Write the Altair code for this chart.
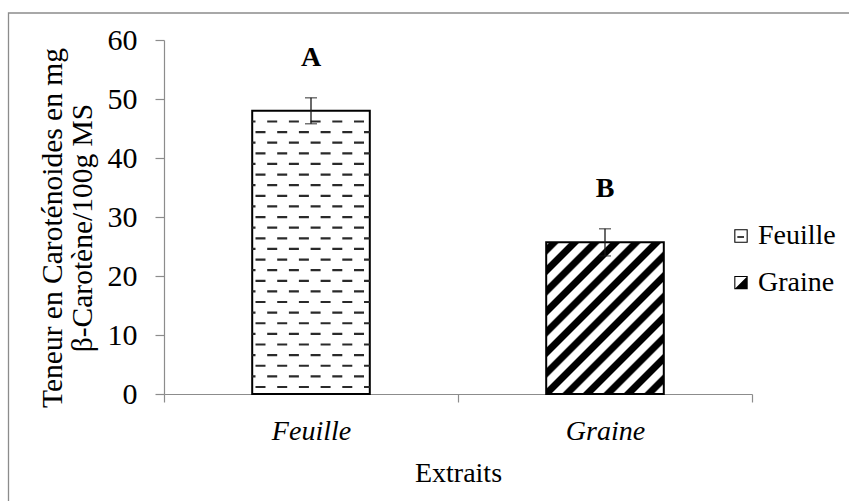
import altair as alt
import pandas as pd

# Teneur en caroténoïdes (mg β-carotène / 100 g MS) par extrait
extraits = ["Feuille", "Graine"]
teneur = [48.0, 25.7]
ecart_type = [2.2, 2.3]
lettres = ["A", "B"]

titre_y = ["Teneur en Caroténoides en mg", "β-Carotène/100g MS\u2002\u2009"]
titre_x = "Extraits"
graduations_y = [0, 10, 20, 30, 40, 50, 60]

POLICE = "Liberation Serif"
TAILLE = 28
LARGEUR, HAUTEUR = 588, 354
Y_MAX = 60
FRACTION_BANDE = 0.4          # largeur d'une barre / largeur de la catégorie
PAS_RANGEE = 1.8              # espacement des rangées de tirets (unités de l'axe)
GRIS_AXE = "#8c8c8c"
NOIR_ERREUR = "#1a1a1a"

df = pd.DataFrame({
    "Extrait": extraits,
    "teneur": teneur,
    "ecart": ecart_type,
    "lettre": lettres,
})

echelle_x = alt.Scale(domain=extraits, paddingInner=0, paddingOuter=0)
echelle_y = alt.Scale(domain=[0, Y_MAX])
axe_y = alt.Axis(values=graduations_y, title=titre_y)


def enc_x(**kw):
    return alt.X("Extrait:N", scale=echelle_x, title=titre_x, **kw)


def enc_y(champ):
    return alt.Y(champ, scale=echelle_y, axis=axe_y)


def hachures(w, h, periode=20.5, phase=8.0, demi=4.0, rampe=1.8):
    """Dégradé linéaire à bandes dures formant des hachures à 45° sur une barre w x h."""
    D = w + h

    def niveau(s):
        d = abs(((s - phase + periode / 2) % periode) - periode / 2)
        if d <= demi:
            return 0.0
        if d >= demi + rampe:
            return 1.0
        return (d - demi) / rampe

    pts = {0.0, D}
    for k in range(-2, int(D // periode) + 3):
        c = phase + k * periode
        for s in (c - demi - rampe, c - demi, c + demi, c + demi + rampe):
            if 0 < s < D:
                pts.add(s)
    stops = []
    for s in sorted(pts):
        g = int(round(niveau(s) * 255))
        stops.append(alt.GradientStop(offset=round(s / D, 5), color=f"#{g:02x}{g:02x}{g:02x}"))
    c = D / (w * w + h * h)
    return alt.LinearGradient(gradient="linear", stops=stops, x1=0, y1=0,
                              x2=round(w * c, 5), y2=round(h * c, 5))


largeur_barre = LARGEUR / len(extraits) * FRACTION_BANDE
hauteur_graine = teneur[1] / Y_MAX * HAUTEUR

base = alt.Chart(df)

# Cadre extérieur de la figure
cadre = alt.Chart(pd.DataFrame({"cadre": [0]})).mark_rect(
    fill="white", fillOpacity=0, stroke=GRIS_AXE, strokeWidth=1.3
).encode(
    x=alt.value(-155.5), x2=alt.value(686), y=alt.value(-27), y2=alt.value(520)
)

# Symboles de légende (carré avec tiret / carré demi-rempli)
motif_feuille = "M-1,-1H1V1H-1Z M-0.84,-0.84V0.84H0.84V-0.84Z M-0.55,0.02H0.45V0.26H-0.55Z"
motif_graine = "M-1,-1H1V1H-1Z M-0.84,-0.84V0.84H0.84V-0.84Z M0.84,-0.84L0.84,0.84L-0.84,0.84Z"

points_legende = base.transform_calculate(milieu="datum.teneur / 2").mark_point(
    filled=True, size=180, color="black", opacity=1
).encode(
    x=enc_x(),
    y=enc_y("milieu:Q"),
    shape=alt.Shape(
        "Extrait:N",
        scale=alt.Scale(domain=extraits, range=[motif_feuille, motif_graine]),
        legend=alt.Legend(
            title=None, orient="none", legendX=563, legendY=182,
            symbolSize=180, symbolStrokeWidth=0, padding=0,
            labelFont=POLICE, labelFontSize=TAILLE, labelColor="black",
            labelOffset=3, rowPadding=18.6,
        ),
    ),
)

barre_feuille = base.transform_filter("datum.Extrait == 'Feuille'").mark_bar(
    width=alt.RelativeBandSize(band=FRACTION_BANDE), fill="white",
    stroke="black", strokeWidth=2
).encode(x=enc_x(), y=enc_y("teneur:Q"))

barre_graine = base.transform_filter("datum.Extrait == 'Graine'").mark_bar(
    width=alt.RelativeBandSize(band=FRACTION_BANDE),
    fill=hachures(largeur_barre, hauteur_graine),
    stroke="black", strokeWidth=2
).encode(x=enc_x(), y=enc_y("teneur:Q"))


def rangees(debut, decalage):
    # rangées de tirets horizontaux remplissant la barre « Feuille »
    return alt.Chart(
        alt.sequence(debut, teneur[0] - 1.7, PAS_RANGEE * 2, as_="rang")
    ).transform_calculate(Extrait="'Feuille'").mark_rule(
        stroke="#2a2a2a", strokeWidth=2.2, strokeDash=[10, 11.7], strokeDashOffset=decalage
    ).encode(
        x=enc_x(bandPosition=0.5 - FRACTION_BANDE / 2),
        x2=alt.X2("Extrait", bandPosition=0.5 + FRACTION_BANDE / 2),
        y=enc_y("rang:Q"),
    )


rangees_a = rangees(2.99, 6.7)
rangees_b = rangees(1.19, 18.4)

erreurs = base.transform_calculate(
    bas="datum.teneur - datum.ecart",
    haut="datum.teneur + datum.ecart",
    pos_lettre="datum.teneur + datum.ecart + 6.8",
)
tige = erreurs.mark_rule(color=NOIR_ERREUR, strokeWidth=1.3).encode(
    x=enc_x(), y=enc_y("bas:Q"), y2="haut:Q"
)
chapeau_haut = erreurs.mark_tick(color=NOIR_ERREUR, size=12, thickness=1.3).encode(
    x=enc_x(), y=enc_y("haut:Q")
)
chapeau_bas = erreurs.mark_tick(color=NOIR_ERREUR, size=12, thickness=1.3).encode(
    x=enc_x(), y=enc_y("bas:Q")
)
texte_lettres = erreurs.mark_text(
    font=POLICE, fontSize=28, fontWeight="bold", color="black", baseline="middle"
).encode(x=enc_x(), y=enc_y("pos_lettre:Q"), text="lettre:N")

chart = alt.layer(
    cadre, points_legende, barre_feuille, barre_graine, rangees_a, rangees_b,
    tige, chapeau_haut, chapeau_bas, texte_lettres,
).properties(
    width=LARGEUR,
    height=HAUTEUR,
    padding={"left": 164, "top": 40, "right": 97, "bottom": 107},
    autosize=alt.AutoSizeParams(type="none"),
    background="white",
).configure(
    font=POLICE
).configure_view(
    stroke=None
).configure_legend(
    labelFont=POLICE, labelFontSize=TAILLE, labelColor="black"
).configure_axis(
    labelFont=POLICE, titleFont=POLICE, labelFontSize=TAILLE, titleFontSize=TAILLE,
    labelColor="black", titleColor="black", titleFontWeight="normal",
    domainColor=GRIS_AXE, tickColor=GRIS_AXE, domainWidth=1.2, tickWidth=1.2, grid=False,
).configure_axisX(
    tickBand="extent", labelAngle=0, labelFontStyle="italic", tickSize=8,
    labelPadding=15, titleY=87.4, titleBaseline="alphabetic",
).configure_axisY(
    tickSize=9, labelPadding=18, labelFontSize=30, titleFontSize=29.5,
    titleX=-102.3, titleY=187.5, titleAngle=270,
    titleAlign="center", titleBaseline="alphabetic", titleLineHeight=30,
)

chart.save("out.html", embed_options={"renderer": "svg", "actions": False})
